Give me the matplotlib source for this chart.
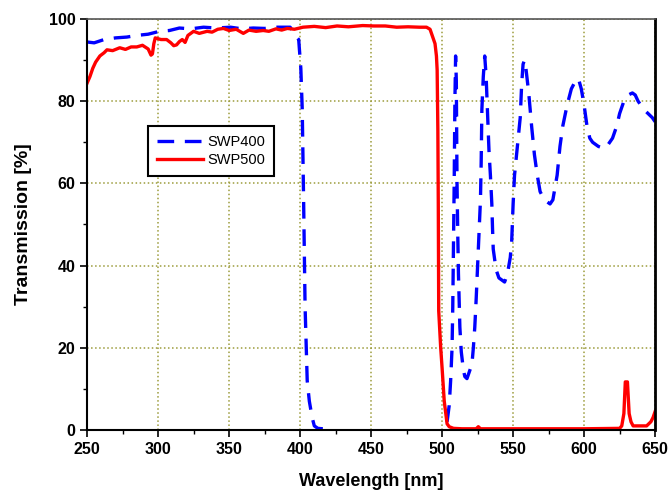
import matplotlib.pyplot as plt
import numpy as np

# SWP400 (blue dashed) -- NaN gap where curve sits on the axis
swp400_wl = [250, 255, 262, 270, 278, 285, 293, 301, 308, 315, 323, 332, 341, 351, 359, 367, 375,
             384, 393, 396.5, 399, 400.5, 401.5, 402.5, 403.5, 405, 406.5, 408.5, 410, 412.5, 416,
             460,
             503.5, 505, 506, 507, 507.5, 508, 508.5, 509, 509.5, 510, 510.5, 511, 511.5, 512.5,
             513.5, 515, 516, 517.5, 519, 521, 522, 523, 524, 525, 526, 527, 527.5, 528, 529, 530,
             531, 532, 533, 534, 535, 535.5, 536, 538, 540, 542, 544, 546, 548, 549, 550, 551, 553,
             555, 556, 557, 558, 559, 561, 563, 565, 567, 569, 572, 576, 578, 581, 583, 585, 588,
             591, 594, 596, 598, 600, 602, 604, 606, 610, 614, 617, 620, 623, 625, 628, 631, 634,
             636, 638, 642, 645, 648, 650]
swp400_t = [94.4, 94.2, 95.0, 95.4, 95.6, 96.0, 96.3, 97.0, 97.2, 97.8, 97.6, 98.0, 97.8, 98.0, 97.6,
            97.8, 97.7, 98.0, 98.0, 96.0, 95.0, 88.0, 78.0, 55.0, 30.0, 12.0, 7.0, 3.0, 1.0, 0.4, 0.3,
            np.nan,
            2.0, 6.0, 12.0, 20.0, 30.0, 45.0, 60.0, 80.0, 91.0, 85.0, 60.0, 48.0, 38.0, 25.0,
            19.0, 14.6, 13.0, 12.5, 14.0, 16.0, 20.0, 25.0, 32.0, 40.0, 48.0, 56.0, 65.0, 78.0, 86.0, 91.0,
            86.0, 77.0, 68.0, 62.0, 55.0, 49.0, 44.0, 39.0, 37.0, 36.5, 36.0, 38.0, 42.0, 46.0, 55.0, 62.0, 69.0,
            76.0, 84.0, 89.0, 90.0, 88.0, 82.0, 74.0, 67.0, 62.0, 58.0, 56.0, 55.0, 56.0, 62.0, 69.0, 74.0, 79.0,
            83.0, 85.0, 85.5, 83.0, 79.0, 74.0, 71.0, 70.0, 69.0, 68.5, 69.5, 71.0, 74.0, 77.0, 80.0, 81.5, 82.0,
            81.5, 80.0, 78.0, 77.0, 76.0, 75.0]

# SWP500 (red solid)
swp500_wl = [250, 252, 254, 256, 259, 262, 264, 268, 273, 277, 281, 285, 289, 293, 295, 296, 297, 298,
             302, 306, 309, 311, 313, 315, 317, 319, 321, 325, 329, 334.5, 338, 342, 346, 350, 355, 360,
             364, 369, 374, 378, 383, 387, 391, 396, 402, 410, 418, 426, 434, 444, 452, 460, 468, 476,
             484, 489, 491.5, 493, 495, 496, 496.5, 497, 497.3, 497.6, 499, 500, 501.5, 503.5, 505, 508,
             514, 524, 525.5, 527, 540, 560, 600, 625, 626.5, 628, 629, 630.5, 631.7, 633, 634.5, 640,
             644, 647, 648.5, 650]
swp500_t = [84.4, 86.0, 88.0, 89.5, 91.0, 91.8, 92.5, 92.3, 93.0, 92.6, 93.2, 93.2, 93.6, 92.7, 91.2, 91.5,
            94.0, 95.4, 95.0, 95.0, 94.2, 93.5, 93.7, 94.5, 95.0, 94.3, 96.0, 97.0, 96.5, 97.0, 96.8, 97.5,
            97.7, 97.2, 97.5, 96.5, 97.3, 97.0, 97.2, 97.0, 97.6, 97.3, 97.7, 97.5, 98.0, 98.2, 97.9, 98.3,
            98.1, 98.4, 98.3, 98.3, 98.0, 98.1, 98.0, 98.0, 97.5, 96.0, 94.0, 91.0, 87.6, 73.0, 55.0, 29.0,
            20.0, 15.0, 7.0, 1.5, 0.8, 0.4, 0.3, 0.3, 0.8, 0.3, 0.3, 0.3, 0.3, 0.4, 1.0, 4.0, 11.7, 11.7,
            4.0, 2.0, 1.0, 1.0, 1.0, 2.0, 3.0, 4.5]

x_ticks = [250, 300, 350, 400, 450, 500, 550, 600, 650]
y_ticks = [0, 20, 40, 60, 80, 100]

plt.rcParams['font.family'] = ['Liberation Sans', 'DejaVu Sans']

fig = plt.figure(figsize=(6.7, 4.97), dpi=100)
ax = fig.add_axes([0.13, 0.1348, 0.8478, 0.827])

ax.plot(swp400_wl, swp400_t, color='#0000ff', linewidth=2.4, dashes=(5, 3.2), label='SWP400')
ax.plot(swp500_wl, swp500_t, color='#ff0000', linewidth=2.4, label='SWP500')

ax.set_xlim(250, 650)
ax.set_ylim(0, 100)
ax.set_xticks(x_ticks)
ax.set_yticks(y_ticks)
ax.set_xticks(np.arange(250, 651, 25), minor=True)
ax.set_yticks(np.arange(0, 101, 10), minor=True)
ax.tick_params(which='major', direction='out', length=5, width=1.2, labelsize=11.5)
ax.tick_params(which='minor', direction='out', length=3, width=1.0)
for lab in ax.get_xticklabels() + ax.get_yticklabels():
    lab.set_fontweight('bold')

ax.grid(True, which='major', color='#9c9c3c', linestyle=':', linewidth=1.1)
ax.set_axisbelow(True)

for side in ['left', 'bottom']:
    ax.spines[side].set_linewidth(1.5)
ax.spines['right'].set_linewidth(2.0)
ax.spines['top'].set_linewidth(1.2)
ax.spines['top'].set_color('#555555')

ax.set_xlabel('Wavelength [nm]', fontsize=13, fontweight='bold', labelpad=12)
ax.set_ylabel('Transmission [%]', fontsize=14, fontweight='bold', labelpad=12)

leg = ax.legend(loc='upper left', bbox_to_anchor=(0.094, 0.757), fontsize=10.5,
                handlelength=3.2, fancybox=False, framealpha=1, edgecolor='black',
                borderpad=0.6, labelspacing=0.3, handletextpad=0.3)
leg.get_frame().set_linewidth(1.5)

fig.savefig('out.png', dpi=100)
